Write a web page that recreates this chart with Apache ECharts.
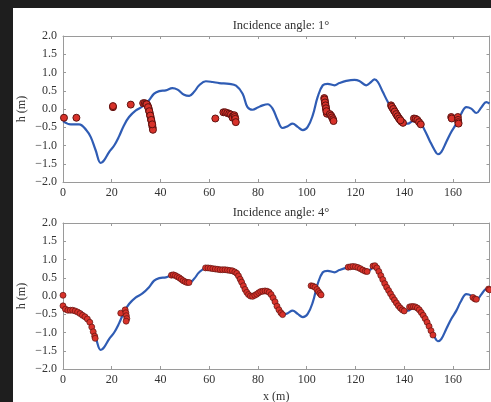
<!DOCTYPE html>
<html lang="en">
<head>
    <meta charset="UTF-8">
    <title>Incidence angle</title>
    <script src="https://cdn.jsdelivr.net/npm/echarts@6/dist/echarts.min.js"></script>
    <style>
        body { margin: 0; background: #1e1e1e; }
        #main { position: absolute; left: 13px; top: 8px; width: 478px; height: 394px; background: #fff; }
    </style>
</head>
<body>
    <div id="main"></div>
    <script>
        // surface profile (same in both panels)
        var profileX = [0, 3.2, 6.6, 9.6, 11.4, 13.4, 15.5, 16.8, 18.9, 21, 23, 25, 27.1, 29.9, 32.6, 35.3, 37.4, 39.5, 42.2, 44.9,
            47, 49.7, 51.8, 53.8, 55.9, 58.6, 61.4, 64.1, 68.2, 71, 73.7, 75.7, 77.8, 79.9, 81.9, 84, 86, 88.1, 90.1, 92.2,
            94.2, 96.3, 98.4, 100.4, 102.5, 104.5, 106.6, 108.6, 111.4, 113.4, 116.2, 119.6, 121.6, 124.4, 126.4, 127.8, 129.2,
            131.2, 133.3, 135.3, 137.4, 139.5, 141.5, 143.6, 146.3, 148.4, 150.4, 152.5, 153.8, 155.2, 157.3, 159.3, 161.4,
            163.4, 165.5, 167.5, 169.6, 171.7, 173.7, 175];
        var profileH = [-0.33, -0.42, -0.42, -0.58, -0.77, -1.13, -1.48, -1.41, -1.18, -1.0, -0.75, -0.45, -0.22, -0.04, 0.07, 0.24,
            0.42, 0.49, 0.51, 0.57, 0.53, 0.39, 0.36, 0.47, 0.65, 0.76, 0.74, 0.71, 0.69, 0.64, 0.42, 0.05, -0.02, 0.04, 0.10,
            0.13, 0.01, -0.31, -0.52, -0.47, -0.40, -0.49, -0.58, -0.49, -0.17, 0.33, 0.65, 0.69, 0.65, 0.71, 0.77, 0.80, 0.77,
            0.65, 0.74, 0.81, 0.74, 0.47, 0.19, -0.04, -0.24, -0.40, -0.40, -0.33, -0.36, -0.58, -0.86, -1.13, -1.24, -1.18,
            -0.90, -0.63, -0.40, -0.13, 0.05, 0.01, -0.11, 0.05, 0.19, 0.15];

        // retrieved points, incidence angle 1 deg
        var points1 = [
            [0.4, -0.24], [5.5, -0.24], [20.5, 0.05], [20.5, 0.08], [27.8, 0.12], [32.9, 0.16],
            [33.6, 0.16], [34.1, 0.14], [34.5, 0.12], [34.8, 0.08], [35.1, 0.03], [35.3, -0.03], [35.5, -0.09], [35.7, -0.15],
            [35.9, -0.21], [36.1, -0.27], [36.3, -0.33], [36.5, -0.39], [36.6, -0.45], [36.8, -0.51], [36.9, -0.57],
            [34.3, 0.13], [34.9, 0.05], [35.4, -0.06], [35.8, -0.18], [36.2, -0.3], [36.6, -0.42],
            [62.5, -0.26], [65.8, -0.09], [66.6, -0.09], [67.4, -0.11], [68.2, -0.13], [68.9, -0.15], [69.6, -0.2], [69.6, -0.24],
            [70.3, -0.17], [70.5, -0.22], [70.7, -0.27], [70.9, -0.36],
            [107.2, 0.3], [107.4, 0.22], [107.6, 0.14], [107.8, 0.06], [108.0, -0.02], [108.2, -0.1], [108.3, -0.13],
            [107.3, 0.26], [107.5, 0.18], [107.7, 0.1], [107.9, 0.02], [108.1, -0.06],
            [109.5, -0.14], [110.0, -0.18], [110.4, -0.23], [110.8, -0.28], [111.0, -0.33],
            [134.6, 0.1], [135.2, 0.03], [135.8, -0.04], [136.4, -0.1], [137, -0.17], [137.6, -0.23], [138.2, -0.29],
            [138.8, -0.34], [139.5, -0.38],
            [134.9, 0.06], [135.5, 0.0], [136.1, -0.07], [136.7, -0.14], [137.3, -0.2], [137.9, -0.26], [138.5, -0.31],
            [144, -0.26], [144.7, -0.27], [145.4, -0.3], [146.1, -0.36], [146.8, -0.42],
            [159.3, -0.22], [159.5, -0.26], [162, -0.22], [162.1, -0.3], [162.2, -0.36], [162.3, -0.4]
        ];

        // retrieved points, incidence angle 4 deg
        var points4 = [
            [0, 0.02],
            [0, -0.27], [1, -0.36], [2, -0.39], [3, -0.39], [4, -0.39], [5, -0.41], [6, -0.44], [7, -0.48], [8, -0.53],
            [9, -0.57], [10, -0.63], [11, -0.72], [11.8, -0.85], [12.4, -0.98], [13, -1.1], [13.2, -1.16],
            [23.7, -0.47], [25.5, -0.38], [25.8, -0.46], [26, -0.54], [26.2, -0.62], [25.9, -0.69],
            [44.5, 0.57], [45.3, 0.58], [46.1, 0.56], [46.9, 0.53], [47.7, 0.5], [48.5, 0.46], [49.3, 0.42], [50.1, 0.39],
            [50.9, 0.37], [51.7, 0.37],
            [58.5, 0.77], [59.5, 0.77], [60.5, 0.76], [61.5, 0.75], [62.5, 0.74], [63.5, 0.73], [64.5, 0.72], [65.5, 0.72],
            [66.5, 0.72], [67.5, 0.71], [68.5, 0.70], [69.5, 0.69], [70.5, 0.66], [71.3, 0.62], [72, 0.55], [72.7, 0.46],
            [73.3, 0.38], [74, 0.28], [74.7, 0.18], [75.4, 0.1], [76.1, 0.04], [76.9, 0.0], [77.8, -0.01], [78.7, 0.02],
            [79.5, 0.05], [80.3, 0.09], [81.1, 0.12], [82, 0.13], [82.9, 0.14], [83.8, 0.13], [84.6, 0.1], [85.4, 0.04],
            [86.2, -0.05], [87, -0.16], [87.8, -0.28], [88.6, -0.38], [89.4, -0.46], [90.1, -0.51],
            [101.8, 0.28], [102.6, 0.27], [103.4, 0.24], [104.2, 0.18], [104.8, 0.12], [105.4, 0.07], [105.9, 0.03],
            [117, 0.79], [118, 0.8], [119, 0.81], [120, 0.8], [121, 0.78], [122, 0.75], [123, 0.71], [124, 0.68], [124.8, 0.67],
            [127.2, 0.82], [128, 0.83], [128.8, 0.77], [129.6, 0.67], [130.4, 0.56], [131.2, 0.45], [132, 0.34], [132.8, 0.24],
            [133.6, 0.15], [134.4, 0.06], [135.2, -0.03], [136, -0.11], [136.8, -0.19], [137.6, -0.27], [138.4, -0.33],
            [139.2, -0.38], [140, -0.41],
            [142.2, -0.3], [143, -0.29], [143.8, -0.29], [144.6, -0.3], [145.4, -0.33], [146.2, -0.38], [147, -0.45],
            [147.8, -0.53], [148.6, -0.62], [149.4, -0.72], [150.2, -0.83], [151, -0.95], [151.8, -1.07],
            [168.2, -0.04], [169, -0.08], [169.6, -0.09],
            [174.6, 0.19], [175, 0.17]
        ];

        var titles = ['Incidence angle: 1°', 'Incidence angle: 4°'];

        var font = '"Liberation Serif", "DejaVu Serif", serif';
        var frame = '#9a9a9a';
        var txt = '#333';

        var profile = profileX.map(function (x, i) { return [x, profileH[i]]; });

        var myChart = echarts.init(document.getElementById('main'));

        var grids = [
            { left: 50, top: 28, right: 1.5, height: 146, outerBoundsMode: 'none', containLabel: false },
            { left: 50, top: 215, right: 1.5, height: 146, outerBoundsMode: 'none', containLabel: false }
        ];

        var xAxes = [], yAxes = [], series = [];
        [0, 1].forEach(function (g) {
            // bottom + top x axes
            xAxes.push({
                type: 'value', gridIndex: g, min: 0, max: 175, interval: 20, position: 'bottom',
                name: g === 1 ? 'x (m)' : '', nameLocation: 'middle', nameGap: 22,
                nameTextStyle: { fontFamily: font, fontSize: 12, color: txt },
                axisLine: { onZero: false, lineStyle: { color: frame } },
                axisTick: { inside: true, length: 3, lineStyle: { color: frame } },
                axisLabel: {
                    fontFamily: font, fontSize: 12, color: txt, margin: 5,
                    formatter: function (v) { return v % 20 === 0 ? String(v) : ''; }
                },
                splitLine: { show: false }
            });
            xAxes.push({
                type: 'value', gridIndex: g, min: 0, max: 175, interval: 20, position: 'top',
                axisLine: { onZero: false, lineStyle: { color: frame } },
                axisTick: { inside: true, length: 3, lineStyle: { color: frame } },
                axisLabel: { show: false },
                splitLine: { show: false }
            });
            yAxes.push({
                type: 'value', gridIndex: g, min: -2, max: 2, interval: 0.5, position: 'left',
                name: 'h (m)', nameLocation: 'middle', nameGap: 35, nameMoveOverlap: false,
                nameTextStyle: { fontFamily: font, fontSize: 12, color: txt },
                axisLine: { onZero: false, lineStyle: { color: frame } },
                axisTick: { inside: true, length: 3, lineStyle: { color: frame } },
                axisLabel: {
                    fontFamily: font, fontSize: 12, color: txt, margin: 6,
                    formatter: function (v) { return v.toFixed(1).replace('-', '\u2212'); }
                },
                splitLine: { show: false }
            });
            yAxes.push({
                type: 'value', gridIndex: g, min: -2, max: 2, interval: 0.5, position: 'right',
                axisLine: { onZero: false, lineStyle: { color: frame } },
                axisTick: { inside: true, length: 3, lineStyle: { color: frame } },
                axisLabel: { show: false },
                splitLine: { show: false }
            });
            series.push({
                type: 'line', xAxisIndex: g * 2, yAxisIndex: g * 2, data: profile,
                showSymbol: false, smooth: 0.4, lineStyle: { color: '#2f5cb4', width: 2.2 }, z: 2
            });
            series.push({
                type: 'scatter', xAxisIndex: g * 2, yAxisIndex: g * 2, data: g === 0 ? points1 : points4,
                symbolSize: g === 0 ? 7 : 6,
                itemStyle: { color: '#d8322a', borderColor: '#5e1210', borderWidth: g === 0 ? 1 : 0.7, opacity: 1 }, z: 3
            });
        });

        var option = {
            animation: false,
            title: [
                { text: titles[0], left: 263, top: 6, textAlign: 'center',
                  textStyle: { fontFamily: font, fontSize: 12.5, fontWeight: 'normal', color: txt } },
                { text: titles[1], left: 263, top: 193, textAlign: 'center',
                  textStyle: { fontFamily: font, fontSize: 12.5, fontWeight: 'normal', color: txt } }
            ],
            grid: grids,
            xAxis: xAxes,
            yAxis: yAxes,
            series: series
        };

        myChart.setOption(option);
    </script>
</body>
</html>
